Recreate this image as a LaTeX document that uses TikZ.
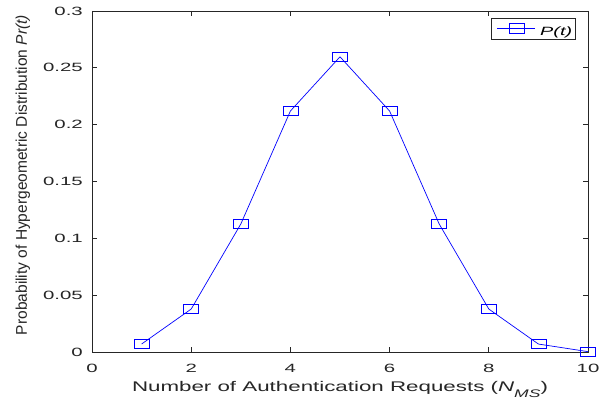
\documentclass[tikz,border=0pt]{standalone}
\usepackage{fontspec}
\setmainfont{Liberation Sans}
\usepackage{graphicx}
\definecolor{axgray}{rgb}{0.15,0.15,0.15}
\definecolor{plotblue}{rgb}{0,0,1}
% tick labels are set wide
\newcommand\ticktxt[1]{\scalebox{1.7}[1]{\fontsize{12}{12}\selectfont #1}}
\tikzset{
  axisline/.style={draw=axgray, line width=0.8pt},
  ticklab/.style={text=axgray, inner sep=0pt},
  plotline/.style={draw=plotblue, line width=0.7pt},
  mk/.style={draw=plotblue, line width=0.8pt, rectangle, minimum width=15pt,
             minimum height=9.5pt, inner sep=0pt},
  legbox/.style={draw=axgray, line width=0.7pt, fill=white, rectangle,
                 minimum width=84.7pt, minimum height=21pt, inner sep=0pt},
}
\begin{document}
\begin{tikzpicture}
\useasboundingbox (0,0) rectangle (616pt,407pt);
\fill[white] (0,0) rectangle (616pt,407pt);
\begin{scope}[shift={(92pt,55pt)}, x=49.6pt, y=1136.67pt]
  % axes box
  \coordinate (o) at (0,0);
  \coordinate (tr) at (10,0.3);
  \draw[axisline] (o) rectangle (tr);
  % x ticks and labels
  \foreach \x in {0,2,...,10} {
    \draw[axisline] (\x,0) -- ++(0,5pt);
    \draw[axisline] (\x,0.3) -- ++(0,-5pt);
    \node[ticklab, yshift=-16pt] (xt\x) at (\x,0) {\ticktxt{\x}};
  }
  % y ticks and labels
  \foreach \y [count=\i] in {0,0.05,0.1,0.15,0.2,0.25,0.3} {
    \draw[axisline] (0,\y) -- ++(5pt,0);
    \draw[axisline] (10,\y) -- ++(-5pt,0);
    \node[ticklab, anchor=east, xshift=-9pt] (yt\i) at (0,\y) {\ticktxt{\y}};
  }
  % data
  \coordinate (p1) at (1,0.0070);
  \coordinate (p2) at (2,0.0378);
  \coordinate (p3) at (3,0.1126);
  \coordinate (p4) at (4,0.2120);
  \coordinate (p5) at (5,0.2597);
  \coordinate (p6) at (6,0.2120);
  \coordinate (p7) at (7,0.1126);
  \coordinate (p8) at (8,0.0378);
  \coordinate (p9) at (9,0.0070);
  \coordinate (p10) at (10,0.0003);
  \draw[plotline] (p1) -- (p2) -- (p3) -- (p4) -- (p5) -- (p6) -- (p7)
                  -- (p8) -- (p9) -- (p10);
  \foreach \i in {1,...,10} \node[mk] (m\i) at (p\i) {};
\end{scope}
% legend
\node[legbox] (leg) at (533.35pt,378.5pt) {};
\coordinate (la) at (497pt,378.5pt);
\coordinate (lb) at (535pt,378.5pt);
\draw[plotline] (la) -- (lb);
\node[mk] (lm) at (516.5pt,378.5pt) {};
\node[anchor=base west, inner sep=0pt, text=black] (lt) at (540pt,371pt)
  {\scalebox{1.65}[1]{\fontsize{12}{12}\selectfont\itshape P(t)}};
% axis titles
\node[anchor=base, inner sep=0pt, text=axgray] (xl) at (340pt,15pt)
  {\resizebox{416pt}{\height}{\fontsize{14}{14}\selectfont Number of Authentication Requests (\textit{N}\raisebox{-5pt}{\fontsize{11}{11}\selectfont\itshape MS})}};
\node[rotate=90, anchor=base, inner sep=0pt, text=axgray] (yl) at (27pt,232pt)
  {\resizebox{320pt}{\height}{\fontsize{15.5}{15.5}\selectfont Probability of Hypergeometric Distribution \textit{Pr(t)}}};
\end{tikzpicture}
\end{document}
